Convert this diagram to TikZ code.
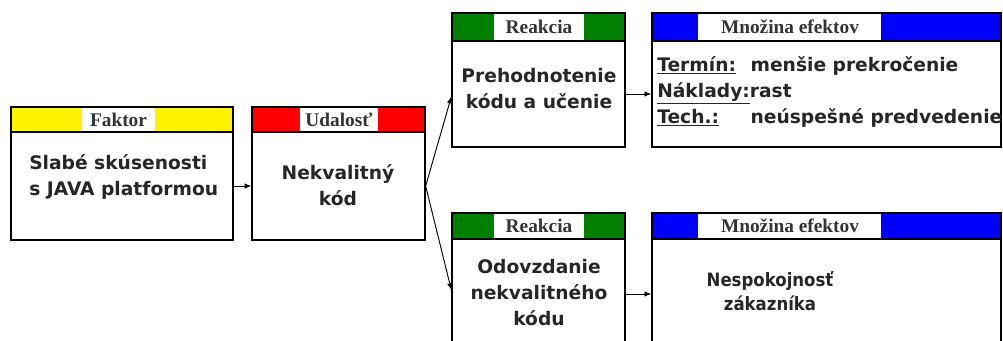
\documentclass[tikz,border=0pt]{standalone}
\usepackage{fontspec}
\setmainfont{Liberation Serif}
\newfontfamily\bodyfont{DejaVu Sans}
\usepackage{graphicx}
\usepackage{tikz}
\usetikzlibrary{arrows.meta, positioning, fit}

\definecolor{kgreen}{RGB}{0,128,0}

\begin{document}
\begin{tikzpicture}[x=0.75pt, y=-0.75pt, >={Latex[length=5pt, width=4pt]},
    box/.style={draw, line width=1pt, inner sep=0pt},
    tag/.style={inner sep=0pt, font=\fontsize{14.5}{16}\selectfont\bfseries, text=black!80},
    txt/.style={font=\bodyfont\bfseries\fontsize{14}{19.5}\selectfont, align=center, text=black!85},
    link/.style={->, line width=0.7pt}]
        \useasboundingbox (0, 0) rectangle (1003, 341);
        \clip (0, 0) rectangle (1003, 341);
        % left column
        \node[box, fill=yellow, fit={(11, 107) (233, 132)}] (faktorhead) {};
        \fill[white] (82, 108) rectangle (155, 131);
        \node[tag] (faktortag) at (118.5, 120) {Faktor};
        \node[box, fit={(11, 132) (233, 240)}] (faktor) {};
        \node[txt, align=left, anchor=west, inner sep=0pt] (faktortext) at (29, 177) {Slabé skúsenosti\\s JAVA platformou};

        \node[box, fill=red, fit={(252, 107) (425, 132)}] (udalosthead) {};
        \fill[white] (300, 108) rectangle (378, 131);
        \node[tag] (udalosttag) at (339, 120) {Udalosť};
        \node[box, fit={(252, 132) (425, 240)}] (udalost) {};
        \node[txt] (udalosttext) at (338, 185) {Nekvalitný\\kód};

        % reactions
        \node[box, fill=kgreen, fit={(452, 13) (625, 41)}] (reakciaAhead) {};
        \fill[white] (494, 14) rectangle (584, 40);
        \node[tag] (reakciaAtag) at (539, 27) {Reakcia};
        \node[box, fit={(452, 41) (625, 147)}] (reakciaA) {};
        \node[txt] (reakciaAtext) at (539, 89) {Prehodnotenie\\kódu a učenie};

        \node[box, fill=kgreen, fit={(452, 213) (625, 239)}] (reakciaBhead) {};
        \fill[white] (494, 214) rectangle (584, 238);
        \node[tag] (reakciaBtag) at (539, 226) {Reakcia};
        \node[box, fit={(452, 239) (625, 349)}] (reakciaB) {};
        \node[txt] (reakciaBtext) at (539, 293) {Odovzdanie\\nekvalitného\\kódu};

        % effects
        \node[box, fill=blue, fit={(652, 13) (1001, 41)}] (efektAhead) {};
        \fill[white] (698, 14) rectangle (881, 40);
        \node[tag] (efektAtag) at (790, 27) {Množina efektov};
        \node[box, fit={(652, 41) (1001, 147)}] (efektA) {};
        \node[txt, align=left, anchor=west, inner sep=0pt] (efektAtext) at (657, 92)
            {\makebox[70pt][l]{\underline{Termín:}}menšie prekročenie\\
             \underline{Náklady:}rast\\
             \makebox[70pt][l]{\underline{Tech.:}}neúspešné predvedenie};

        \node[box, fill=blue, fit={(652, 213) (1001, 239)}] (efektBhead) {};
        \fill[white] (698, 214) rectangle (881, 238);
        \node[tag] (efektBtag) at (790, 226) {Množina efektov};
        \node[box, fit={(652, 239) (1001, 349)}] (efektB) {};
        \node[txt, font=\bodyfont\bfseries\fontsize{13.8}{17.5}\selectfont] (efektBtext) at (770, 291)
            {\scalebox{0.9}[1]{Nespokojnosť}\\\scalebox{0.9}[1]{zákazníka}};

        % connectors
        \draw[link] (faktor) -- (udalost);
        \draw[link] (udalost.east) -- ([yshift=-2pt]reakciaA.west);
        \draw[link] (udalost.east) -- ([yshift=3pt]reakciaB.west);
        \draw[link] (reakciaA) -- (efektA);
        \draw[link] (reakciaB) -- (efektB);
    \end{tikzpicture}
\end{document}
